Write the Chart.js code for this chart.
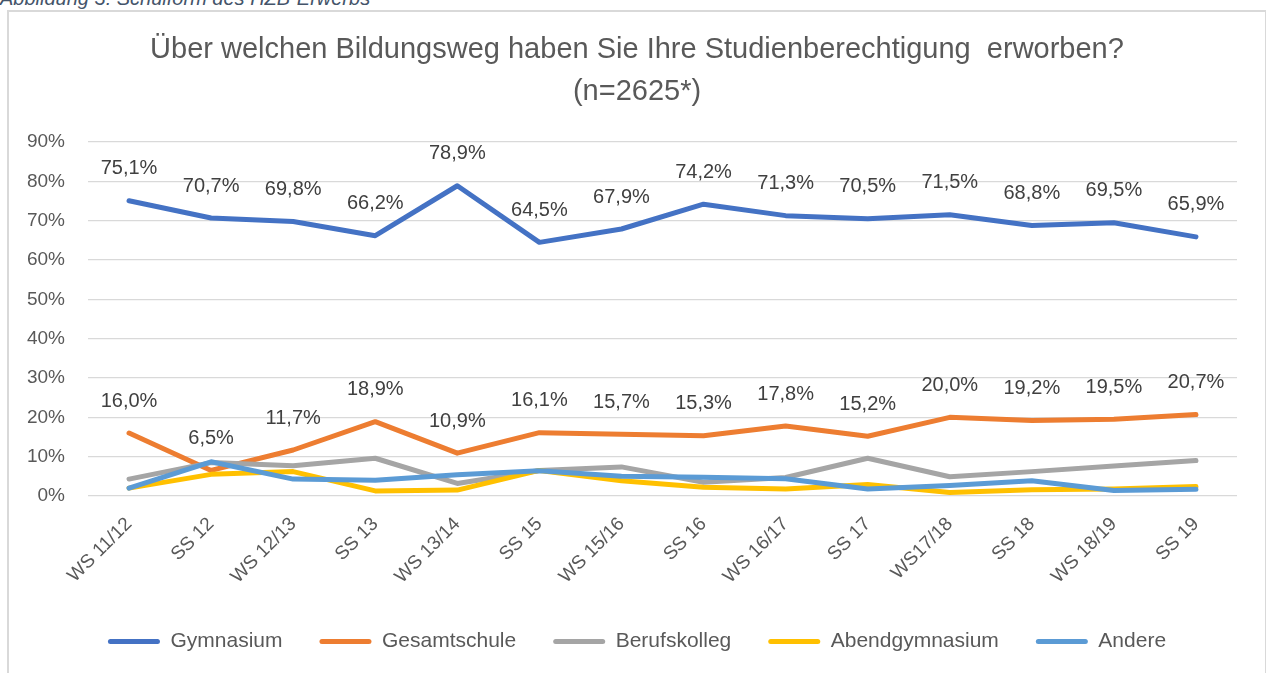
<!DOCTYPE html>
<html>
<head>
<meta charset="utf-8">
<script src="https://cdn.jsdelivr.net/npm/chart.js@4.4.1/dist/chart.umd.min.js"></script>
<style>
    html, body { margin: 0; padding: 0; background: #fff; overflow: hidden; }
    body { width: 1266px; height: 673px; position: relative; }
    .caption {
        position: absolute; left: 0; top: -13px;
        font: italic 20px "Liberation Sans", Arial, sans-serif;
        color: #44546a; white-space: nowrap;
    }
    .box {
        position: absolute; left: 7px; top: 10px; width: 1256px; height: 700px;
        border: 2px solid #d9d9d9;
    }
    .chart-wrap { position: absolute; left: 0; top: 0; width: 1256px; height: 661px; }
</style>
</head>
<body>
<div class="caption">Abbildung 3: Schulform des HZB-Erwerbs</div>
<div class="box">
    <div class="chart-wrap"><canvas id="hzbChart"></canvas></div>
</div>
<script>
const semesters = ['WS 11/12', 'SS 12', 'WS 12/13', 'SS 13', 'WS 13/14', 'SS 15', 'WS 15/16',
    'SS 16', 'WS 16/17', 'SS 17', 'WS17/18', 'SS 18', 'WS 18/19', 'SS 19'];
const gymnasium = [75.1, 70.7, 69.8, 66.2, 78.9, 64.5, 67.9, 74.2, 71.3, 70.5, 71.5, 68.8, 69.5, 65.9];
const gesamtschule = [16.0, 6.5, 11.7, 18.9, 10.9, 16.1, 15.7, 15.3, 17.8, 15.2, 20.0, 19.2, 19.5, 20.7];
const berufskolleg = [4.3, 8.5, 7.7, 9.6, 3.2, 6.5, 7.4, 3.5, 4.7, 9.6, 4.9, 6.2, 7.6, 9.0];
const abendgymnasium = [2.0, 5.5, 6.2, 1.3, 1.5, 6.5, 3.9, 2.2, 1.8, 2.9, 0.9, 1.6, 1.8, 2.4];
const andere = [2.0, 8.7, 4.3, 4.0, 5.4, 6.4, 5.0, 4.8, 4.4, 1.8, 2.7, 3.9, 1.4, 1.7];
const yTicks = [0, 10, 20, 30, 40, 50, 60, 70, 80, 90];

const FONT = '"Liberation Sans", Arial, sans-serif';
const textColor = '#595959';

function lineSet(label, data, color, order) {
    return {
        label: label,
        data: data,
        borderColor: color,
        backgroundColor: color,
        borderWidth: 5,
        borderCapStyle: 'round',
        borderJoinStyle: 'round',
        pointRadius: 0,
        pointHoverRadius: 0,
        tension: 0,
        order: order,
    };
}

// value labels above Gymnasium and Gesamtschule
const valueLabels = {
    id: 'valueLabels',
    afterDatasetsDraw(chart) {
        const ctx = chart.ctx;
        ctx.save();
        ctx.font = '20px ' + FONT;
        ctx.fillStyle = '#404040';
        ctx.textAlign = 'center';
        ctx.textBaseline = 'middle';
        [0, 1].forEach(i => {
            const meta = chart.getDatasetMeta(i);
            meta.data.forEach((pt, j) => {
                const v = chart.data.datasets[i].data[j];
                ctx.fillText(v.toFixed(1).replace('.', ',') + '%', pt.x, pt.y - 32);
            });
        });
        ctx.restore();
    }
};

const ctx = document.getElementById('hzbChart').getContext('2d');
new Chart(ctx, {
    type: 'line',
    data: {
        labels: semesters,
        datasets: [
            lineSet('Gymnasium', gymnasium, '#4472c4', 5),
            lineSet('Gesamtschule', gesamtschule, '#ed7d31', 4),
            lineSet('Berufskolleg', berufskolleg, '#a5a5a5', 3),
            lineSet('Abendgymnasium', abendgymnasium, '#ffc000', 2),
            lineSet('Andere', andere, '#5b9bd5', 1),
        ],
    },
    options: {
        responsive: true,
        maintainAspectRatio: false,
        animation: false,
        layout: { padding: { top: 0, right: 0, bottom: 11, left: 0 } },
        scales: {
            x: {
                offset: true,
                grid: { display: false },
                border: { display: false },
                ticks: {
                    color: textColor,
                    font: { family: FONT, size: 19 },
                    maxRotation: 45,
                    minRotation: 45,
                    padding: 9,
                },
                afterFit(scale) { scale.height = 98; },
            },
            y: {
                min: 0,
                max: 90,
                afterBuildTicks(scale) { scale.ticks = yTicks.map(v => ({ value: v })); },
                grid: { color: '#d9d9d9', lineWidth: 1.3, drawTicks: false },
                border: { display: false },
                ticks: {
                    color: textColor,
                    font: { family: FONT, size: 19 },
                    padding: 23,
                    callback: v => v + '%',
                },
                afterFit(scale) { scale.width = 79; },
            },
            yRight: {
                position: 'right',
                display: true,
                grid: { display: false },
                border: { display: false },
                ticks: { display: false },
                afterFit(scale) { scale.width = 28; },
            },
        },
        plugins: {
            title: {
                display: true,
                text: ['Über welchen Bildungsweg haben Sie Ihre Studienberechtigung  erworben?', '(n=2625*)'],
                color: textColor,
                font: { family: FONT, size: 29, weight: 'normal', lineHeight: 1.45 },
                padding: { top: 17, bottom: 29 },
            },
            legend: {
                position: 'bottom',
                labels: {
                    color: textColor,
                    font: { family: FONT, size: 21 },
                    boxWidth: 52,
                    boxHeight: 5,
                    padding: 37,
                    useBorderRadius: true,
                    borderRadius: 2.5,
                    sort: (a, b) => a.datasetIndex - b.datasetIndex,
                    generateLabels(chart) {
                        return Chart.defaults.plugins.legend.labels.generateLabels(chart)
                            .map(item => Object.assign(item, { lineWidth: 0 }));
                    },
                },
            },
            tooltip: { enabled: false },
        },
    },
    plugins: [valueLabels],
});
</script>
</body>
</html>
